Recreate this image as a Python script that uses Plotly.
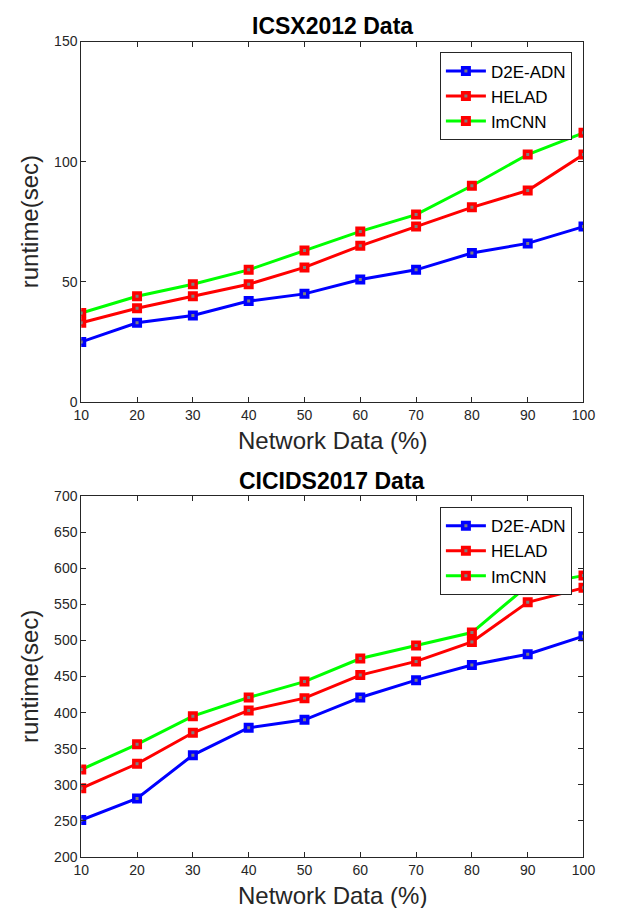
import plotly.graph_objects as go

x_pct = [10, 20, 30, 40, 50, 60, 70, 80, 90, 100]
series_names = ["D2E-ADN", "HELAD", "ImCNN"]

icsx_d2e = [25, 33, 36, 42, 45, 51, 55, 62, 66, 73]
icsx_helad = [33, 39, 44, 49, 56, 65, 73, 81, 88, 103]
icsx_imcnn = [37, 44, 49, 55, 63, 71, 78, 90, 103, 112]

cic_d2e = [251, 281, 341, 379, 390, 421, 445, 466, 481, 506]
cic_helad = [295, 329, 372, 403, 420, 452, 471, 498, 553, 573]
cic_imcnn = [321, 356, 395, 421, 443, 475, 493, 511, 576, 590]

top_ticks = [0, 50, 100, 150]
bot_ticks = [200, 250, 300, 350, 400, 450, 500, 550, 600, 650, 700]

line_colors = ["#0000ff", "#ff0000", "#00ff00"]
marker_colors = ["#0000ff", "#ff0000", "#ff0000"]

FONT = "Liberation Sans, Arial, sans-serif"
AX = "#262626"

# the page body keeps its default 8px margin; figure fills the rest of the window
OFF = 8
W, H = 618 - 2 * OFF, 916 - 2 * OFF

def px(X):
    return (X - OFF) / W

def py(Y):
    return 1 - (Y - OFF) / H

fig = go.Figure()

def add(xs, ys, name, i, xa, ya, lg):
    fig.add_trace(go.Scatter(
        x=xs, y=ys, name=name, mode="lines+markers",
        xaxis=xa, yaxis=ya, legend=lg,
        line=dict(color=line_colors[i], width=3),
        marker=dict(symbol="square", size=6.5, color="#7f7f7f",
                    line=dict(color=marker_colors[i], width=3.5)),
    ))

for i, ys in enumerate([icsx_d2e, icsx_helad, icsx_imcnn]):
    add(x_pct, ys, series_names[i], i, "x", "y", "legend")
for i, ys in enumerate([cic_d2e, cic_helad, cic_imcnn]):
    add(x_pct, ys, series_names[i], i, "x2", "y2", "legend2")

xd = [px(75.5), px(595)]
top_d = [py(401), py(34)]
bot_d = [py(864), py(497)]

common_axis = dict(
    showline=True, mirror="ticks", linecolor=AX, linewidth=1,
    ticks="inside", ticklen=5, tickcolor=AX, tickwidth=1,
    showgrid=False, zeroline=False,
    tickfont=dict(family=FONT, size=14, color=AX),
)

leg_common = dict(xanchor="right", yanchor="top",
                  bgcolor="white", bordercolor=AX, borderwidth=1,
                  font=dict(family=FONT, size=17, color="black"),
                  tracegroupgap=0, itemwidth=40)

fig.update_layout(
    width=W, height=H,
    margin=dict(l=0, r=0, t=0, b=0),
    paper_bgcolor="white", plot_bgcolor="white",
    font=dict(family=FONT, color=AX),
    xaxis=dict(domain=xd, anchor="y", range=[10, 100], tickvals=x_pct, **common_axis),
    yaxis=dict(domain=top_d, anchor="x", range=[0, 150], tickvals=top_ticks, **common_axis),
    xaxis2=dict(domain=xd, anchor="y2", range=[10, 100], tickvals=x_pct, **common_axis),
    yaxis2=dict(domain=bot_d, anchor="x2", range=[200, 700], tickvals=bot_ticks, **common_axis),
    legend=dict(x=px(583), y=py(45), **leg_common),
    legend2=dict(x=px(583), y=py(508), **leg_common),
    showlegend=True,
)

cx = (xd[0] + xd[1]) / 2
anns = [
    dict(text="<b>ICSX2012 Data</b>", x=cx, y=py(18), size=23, color="black", angle=0),
    dict(text="<b>CICIDS2017 Data</b>", x=cx, y=py(481), size=23, color="black", angle=0),
    dict(text="Network Data (%)", x=cx, y=py(440), size=24, color=AX, angle=0),
    dict(text="Network Data (%)", x=cx, y=py(903), size=24, color=AX, angle=0),
    dict(text="runtime(sec)", x=px(22), y=(top_d[0] + top_d[1]) / 2, size=24, color=AX, angle=-90),
    dict(text="runtime(sec)", x=px(22), y=(bot_d[0] + bot_d[1]) / 2, size=24, color=AX, angle=-90),
]
for a in anns:
    fig.add_annotation(text=a["text"], x=a["x"], y=a["y"], xref="paper", yref="paper",
                       xanchor="center", yanchor="middle", showarrow=False,
                       textangle=a["angle"],
                       font=dict(family=FONT, size=a["size"], color=a["color"]))

fig.write_html("out.html", config={"displayModeBar": False})
